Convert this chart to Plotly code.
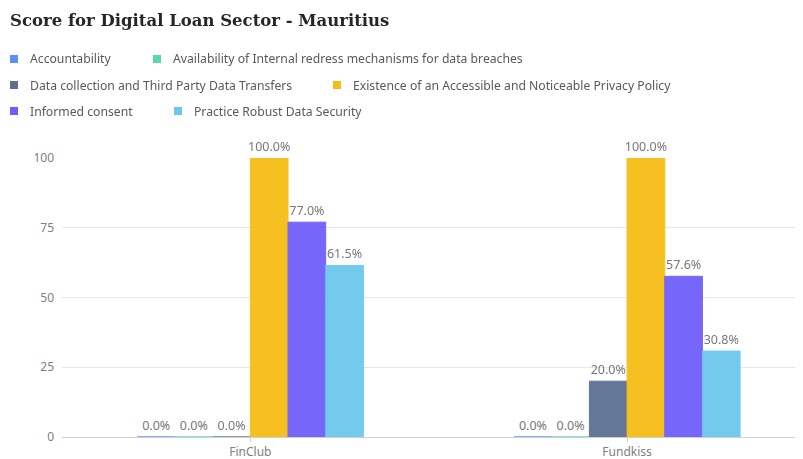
import plotly.graph_objects as go

categories = ["FinClub", "Fundkiss"]
series_names = [
    "Accountability",
    "Availability of Internal redress mechanisms for data breaches",
    "Data collection and Third Party Data Transfers",
    "Existence of an Accessible and Noticeable Privacy Policy",
    "Informed consent",
    "Practice Robust Data Security",
]
accountability = [0.0, 0.0]
availability = [0.0, 0.0]
data_collection = [0.0, 20.0]
privacy_policy = [100.0, 100.0]
informed_consent = [77.0, 57.6]
data_security = [61.5, 30.8]
colors = ["#5B8FF9", "#5AD8A6", "#5D7092", "#F6BD16", "#6F5EF9", "#6DC8EC"]

series_values = [accountability, availability, data_collection,
                 privacy_policy, informed_consent, data_security]

# the page adds an 8px body margin, so the figure is drawn 8px smaller
W, H = 795, 451
ML, MT, MB = 54, 150, 22
PLOT_W = W - ML
PLOT_H = H - MT - MB

# legend layout (figure pixels): symbol centre x and row centre y of each entry
legend_sym_x = [6, 149, 6, 329, 6, 170]
legend_row_y = [51, 51, 77, 77, 103, 103]


def px_x(fx):
    return (fx - ML) / PLOT_W


def px_y(fy):
    return 1 + (MT - fy) / PLOT_H


fig = go.Figure()
for name, vals, col in zip(series_names, series_values, colors):
    fig.add_trace(go.Bar(
        name=name, x=categories, y=vals,
        marker=dict(color=col, line=dict(color=col, width=1)),
        opacity=0.95,
        texttemplate="%{y:.1f}%", textposition="outside",
        textfont=dict(color="#707070", size=12.5),
        constraintext="none",
        cliponaxis=False, showlegend=False,
    ))

# custom flowing legend (two entries per row, as in the reference)
for name, col, sx, sy in zip(series_names, colors, legend_sym_x, legend_row_y):
    fig.add_shape(type="rect", xref="paper", yref="paper",
                  x0=px_x(sx - 4), x1=px_x(sx + 4), y0=px_y(sy + 4), y1=px_y(sy - 4),
                  fillcolor=col, line=dict(width=0), layer="above")
    fig.add_annotation(text=name, xref="paper", yref="paper",
                       x=px_x(sx + 14), y=px_y(sy), xanchor="left", yanchor="middle",
                       showarrow=False,
                       font=dict(family="Noto Sans", size=12.2, color="#595959"))

fig.update_layout(
    width=W, height=H,
    paper_bgcolor="white", plot_bgcolor="white",
    font=dict(family="Noto Sans, Open Sans, sans-serif", color="#595959", size=12),
    title=dict(text="<b>Score for Digital Loan Sector - Mauritius</b>",
               xref="container", yref="container",
               x=2 / W, xanchor="left", y=1 - 12 / H, yanchor="middle",
               font=dict(family="DejaVu Serif", size=16.5, color="#262626")),
    margin=dict(l=ML, r=0, t=MT, b=MB),
    barmode="group", bargap=0.4, bargroupgap=0,
    showlegend=False,
)
fig.update_xaxes(range=[-0.5, 1.467], showgrid=False, showline=True, automargin=False,
                 linecolor="#d0d0d0", linewidth=1, ticks="outside", ticklen=4,
                 tickcolor="#d0d0d0", tickfont=dict(color="#808080", size=12))
fig.update_yaxes(range=[0, 100], tickvals=[0, 25, 50, 75, 100], showgrid=True,
                 automargin=False,
                 gridcolor="#e6e6e6", gridwidth=1, zeroline=False,
                 tickfont=dict(color="#808080", size=12), ticks="",
                 ticklabelstandoff=7)

fig.write_html("out.html")
